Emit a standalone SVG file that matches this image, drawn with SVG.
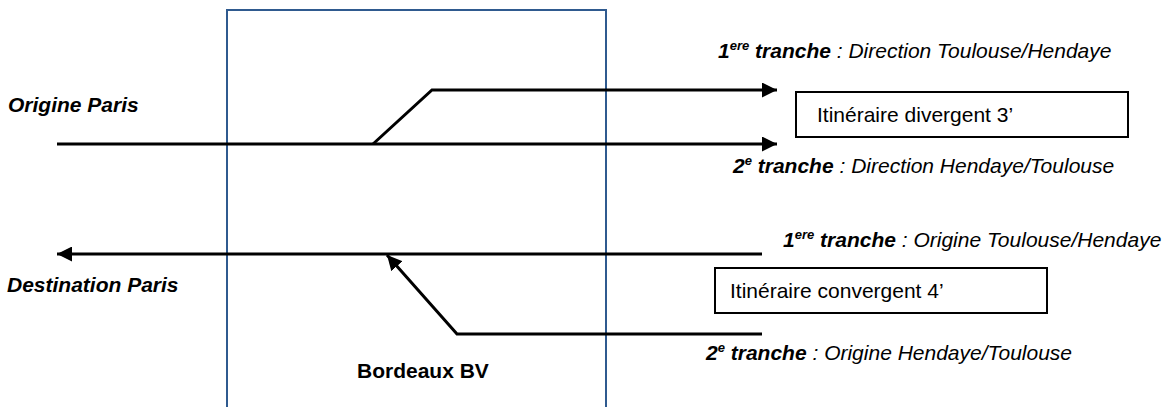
<svg xmlns="http://www.w3.org/2000/svg" width="1171" height="407" viewBox="0 0 1171 407">
<style>
text{font-family:"Liberation Sans",Arial,sans-serif;font-size:21px;fill:#000}
.bi{font-weight:bold;font-style:italic}
.b{font-weight:bold}
.i{font-style:italic}
.sup{font-size:13px}
.track{stroke:#000;stroke-width:3;fill:none}
.box{fill:#fff;stroke:#000;stroke-width:2}
</style>
<defs>
<marker id="ah" viewBox="0 0 10 10" refX="10" refY="5" markerWidth="5" markerHeight="5" orient="auto" markerUnits="strokeWidth">
<path d="M0,0 L10,5 L0,10 Z" fill="#000"/>
</marker>
</defs>
<rect x="0" y="0" width="1171" height="407" fill="#fff"/>
<g id="station">
<path d="M227,410 V10 H606 V410" fill="none" stroke="#2F5A8F" stroke-width="2"/>
<text class="b" x="357" y="378">Bordeaux BV</text>
</g>
<g id="connectors">
<line class="track" x1="57" y1="144" x2="777" y2="144" marker-end="url(#ah)"/>
<polyline class="track" points="373,144 432,90 777,90" marker-end="url(#ah)"/>
<line class="track" x1="762" y1="254" x2="57" y2="254" marker-end="url(#ah)"/>
<polyline class="track" points="762,334 457,334 387,255" marker-end="url(#ah)"/>
</g>
<g id="origine-paris"><text class="bi" x="8" y="112">Origine Paris</text></g>
<g id="destination-paris"><text class="bi" x="7" y="292">Destination Paris</text></g>
<g id="dir-1"><text x="718" y="58"><tspan class="bi">1</tspan><tspan class="bi sup" dy="-8">ere</tspan><tspan class="bi" dy="8"> tranche</tspan><tspan class="i"> : Direction Toulouse/Hendaye</tspan></text></g>
<g id="dir-2"><text x="733" y="173"><tspan class="bi">2</tspan><tspan class="bi sup" dy="-8">e</tspan><tspan class="bi" dy="8"> tranche</tspan><tspan class="i"> : Direction Hendaye/Toulouse</tspan></text></g>
<g id="itin-3"><rect class="box" x="796" y="92" width="332" height="45"/><text x="817" y="122">Itinéraire divergent 3’</text></g>
<g id="orig-1"><text x="783" y="247"><tspan class="bi">1</tspan><tspan class="bi sup" dy="-8">ere</tspan><tspan class="bi" dy="8"> tranche</tspan><tspan class="i"> : Origine Toulouse/Hendaye</tspan></text></g>
<g id="itin-4"><rect class="box" x="715" y="268" width="332" height="45"/><text x="730" y="298">Itinéraire convergent 4’</text></g>
<g id="orig-2"><text x="706" y="360"><tspan class="bi">2</tspan><tspan class="bi sup" dy="-8">e</tspan><tspan class="bi" dy="8"> tranche</tspan><tspan class="i"> : Origine Hendaye/Toulouse</tspan></text></g>
</svg>
